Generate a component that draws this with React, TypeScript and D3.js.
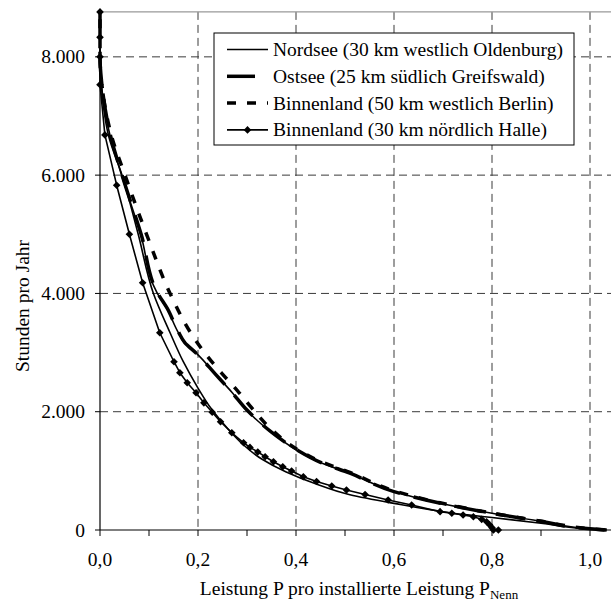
import React from "react";
import * as d3 from "d3";

// Jahresdauerlinien: Anteil der Nennleistung (x) gegen Stunden pro Jahr (y)
const nordseeP = [0, 0, 0.003, 0.021, 0.044, 0.083, 0.117, 0.136, 0.159, 0.172, 0.197, 0.235, 0.270, 0.299, 0.35, 0.401, 0.45, 0.51, 0.601, 0.694, 0.80, 0.905, 1.0, 1.034];
const nordseeH = [8760, 8000, 7520, 6650, 6000, 5000, 4000, 3750, 3350, 3170, 2986, 2640, 2320, 2028, 1650, 1352, 1140, 958, 648, 451, 282, 140, 20, 0];

const ostseeP = [0, 0, 0.004, 0.022, 0.045, 0.084, 0.118, 0.137, 0.160, 0.173, 0.197, 0.235, 0.270, 0.300, 0.35, 0.402, 0.45, 0.51, 0.60, 0.695, 0.80, 0.905, 1.0, 1.034];
const ostseeH = [8760, 8000, 7520, 6650, 6000, 5000, 4000, 3750, 3350, 3170, 2986, 2640, 2320, 2028, 1655, 1355, 1145, 960, 650, 452, 283, 140, 20, 0];

const berlinP = [0, 0, 0.004, 0.024, 0.051, 0.095, 0.143, 0.185, 0.200, 0.228, 0.255, 0.282, 0.308, 0.35, 0.401, 0.45, 0.51, 0.601, 0.694, 0.80, 0.905, 1.0, 1.03];
const berlinH = [8760, 8000, 7520, 6650, 6000, 5000, 4000, 3335, 3150, 2845, 2590, 2340, 2080, 1700, 1370, 1160, 975, 660, 460, 285, 142, 22, 0];

const halleP = [0, 0, 0, 0, 0.010, 0.034, 0.060, 0.087, 0.122, 0.151, 0.163, 0.178, 0.196, 0.212, 0.229, 0.246, 0.269, 0.293, 0.306, 0.322, 0.337, 0.354, 0.373, 0.391, 0.415, 0.442, 0.473, 0.503, 0.541, 0.588, 0.636, 0.694, 0.718, 0.741, 0.762, 0.779, 0.789, 0.795, 0.800, 0.803, 0.813];
const halleH = [8760, 8330, 8000, 7530, 6680, 5830, 5000, 4180, 3335, 2845, 2660, 2490, 2320, 2150, 1990, 1830, 1644, 1475, 1397, 1320, 1239, 1155, 1070, 997, 901, 820, 744, 676, 600, 507, 422, 310, 282, 253, 225, 180, 140, 90, 40, 0, 0];

// zusätzliche Dauerlinie ohne Legendeneintrag
const weitereP = [0, 0, 0.003, 0.018, 0.045, 0.078, 0.109, 0.143, 0.170, 0.200, 0.228, 0.26, 0.29, 0.33, 0.38, 0.44, 0.51, 0.60, 0.70, 0.75, 0.80, 0.90, 1.0, 1.03];
const weitereH = [8760, 8000, 7500, 6650, 6000, 5000, 4000, 3335, 2845, 2400, 2040, 1720, 1460, 1200, 980, 780, 595, 450, 310, 255, 210, 115, 15, 0];

const legendLabels = [
  "Nordsee (30 km westlich Oldenburg)",
  "Ostsee (25 km südlich Greifswald)",
  "Binnenland (50 km westlich Berlin)",
  "Binnenland (30 km nördlich Halle)",
];

const xTicks = [0, 0.1, 0.2, 0.3, 0.4, 0.5, 0.6, 0.7, 0.8, 0.9, 1.0];
const xLabelTicks = [0, 0.2, 0.4, 0.6, 0.8, 1.0];
const yTicks = [0, 2000, 4000, 6000, 8000];

const W = 611;
const H = 603;
const FONT = "'Liberation Serif', 'Times New Roman', serif";
const FS = 19.5;

const x = d3.scaleLinear().domain([0, 1]).range([100, 590]);
const y = d3.scaleLinear().domain([0, 8760]).range([530, 11.9]);

type Pt = [number, number];
const zip = (p: number[], h: number[]): Pt[] => p.map((v, i) => [v, h[i]]);

// smooth curves: x as a monotone function of hours (sorted ascending in hours)
const smooth = d3
  .line<Pt>()
  .x((d) => x(d[0]))
  .y((d) => y(d[1]))
  .curve(d3.curveMonotoneY);
const straight = d3
  .line<Pt>()
  .x((d) => x(d[0]))
  .y((d) => y(d[1]));

const smoothPath = (pts: Pt[]) => smooth([...pts].sort((a, b) => a[1] - b[1])) || "";

const diamond = (cx: number, cy: number, r: number) =>
  `M${cx},${cy - r}L${cx + r},${cy}L${cx},${cy + r}L${cx - r},${cy}Z`;

const fmtY = (v: number) => (v === 0 ? "0" : d3.format(",")(v).replace(/,/g, "."));
const fmtX = (v: number) => v.toFixed(1).replace(".", ",");

type Style = { width: number; dash?: string; marker?: boolean };
const styles: Style[] = [
  { width: 1.6 },
  { width: 3.5, dash: "28,14" },
  { width: 3.5, dash: "9,11" },
  { width: 1.6, marker: true },
];

export default function App() {
  const nordsee = zip(nordseeP, nordseeH);
  const ostsee = zip(ostseeP, ostseeH);
  const berlin = zip(berlinP, berlinH);
  const halle = zip(halleP, halleH);
  const weitere = zip(weitereP, weitereH);

  const legendX0 = 214;
  const legendY0 = 33;
  const rowY = (i: number) => 49.5 + i * 26.8;

  return (
    <svg
      width={W}
      height={H}
      style={{ position: "absolute", left: 0, top: 0, background: "#fff" }}
      fontFamily={FONT}
    >
      <rect x={0} y={0} width={W} height={H} fill="#fff" />

      {/* gridlines */}
      {xLabelTicks.filter((t) => t > 0).map((t) => (
        <line key={"gx" + t} x1={x(t)} x2={x(t)} y1={y(8760)} y2={y(0)} stroke="#3a3a3a" strokeWidth={1} strokeDasharray="8,5" />
      ))}
      {yTicks.filter((t) => t > 0).map((t) => (
        <line key={"gy" + t} x1={x(0)} x2={W} y1={y(t)} y2={y(t)} stroke="#3a3a3a" strokeWidth={1} strokeDasharray="8,5" />
      ))}
      {/* top frame */}
      <line x1={x(0)} x2={W} y1={y(8760)} y2={y(8760)} stroke="#999" strokeWidth={1.2} />

      {/* curves */}
      <g fill="none" stroke="#000" strokeLinejoin="round">
        <path d={smoothPath(weitere)} strokeWidth={1.6} />
        <path d={smoothPath(nordsee)} strokeWidth={styles[0].width} />
        <path d={smoothPath(ostsee)} strokeWidth={styles[1].width} strokeDasharray={styles[1].dash} />
        <path d={smoothPath(berlin)} strokeWidth={styles[2].width} strokeDasharray={styles[2].dash} />
        <path d={straight(halle) || ""} strokeWidth={styles[3].width} />
      </g>
      <g fill="#000">
        {halle.map((d, i) => (
          <path key={"m" + i} d={diamond(x(d[0]), y(d[1]), 3.8)} />
        ))}
      </g>

      {/* axes */}
      <line x1={x(0)} x2={x(0)} y1={y(8760)} y2={y(0)} stroke="#000" strokeWidth={1.2} />
      <line x1={x(0)} x2={W} y1={y(0)} y2={y(0)} stroke="#000" strokeWidth={1.2} />
      {yTicks.map((t) => (
        <g key={"yt" + t}>
          <line x1={x(0) - 5} x2={x(0)} y1={y(t)} y2={y(t)} stroke="#000" strokeWidth={1} />
          <text x={85} y={y(t) + 6.5} textAnchor="end" fontSize={FS}>
            {fmtY(t)}
          </text>
        </g>
      ))}
      {xTicks.map((t) => (
        <line key={"xt" + t} x1={x(t)} x2={x(t)} y1={y(0)} y2={y(0) + 6} stroke="#000" strokeWidth={1} />
      ))}
      {xLabelTicks.map((t) => (
        <text key={"xl" + t} x={x(t)} y={566} textAnchor="middle" fontSize={FS}>
          {fmtX(t)}
        </text>
      ))}

      {/* axis titles */}
      <text x={359} y={595} textAnchor="middle" fontSize={FS}>
        Leistung P pro installierte Leistung P
        <tspan fontSize={13} dy={4}>Nenn</tspan>
      </text>
      <text transform="translate(29,306) rotate(-90)" textAnchor="middle" fontSize={FS}>
        Stunden pro Jahr
      </text>

      {/* legend */}
      <rect x={legendX0} y={legendY0} width={360} height={112} fill="#fff" stroke="#000" strokeWidth={1} />
      {legendLabels.map((lab, i) => {
        const st = styles[i];
        const cy = rowY(i);
        return (
          <g key={"lg" + i}>
            <line x1={227} x2={268} y1={cy} y2={cy} stroke="#000" strokeWidth={st.width} strokeDasharray={st.dash} />
            {st.marker && <path d={diamond(247.5, cy, 3.8)} fill="#000" />}
            <text x={273} y={cy + 6.5} fontSize={FS}>
              {lab}
            </text>
          </g>
        );
      })}
    </svg>
  );
}
